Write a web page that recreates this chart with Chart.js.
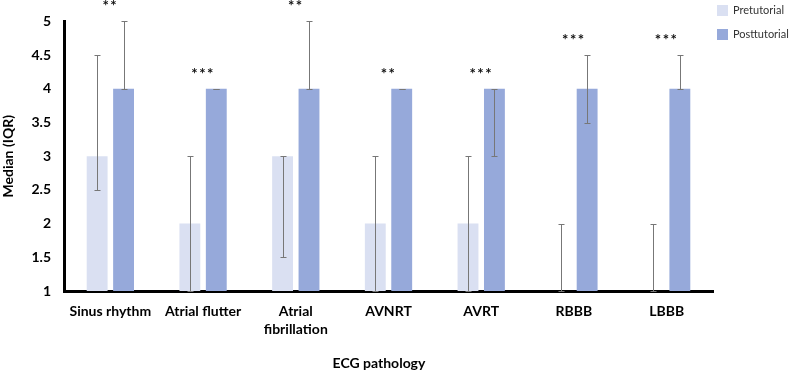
<!DOCTYPE html>
<html>
<head>
<meta charset="utf-8">
<script src="https://cdn.jsdelivr.net/npm/chart.js@4/dist/chart.umd.min.js"></script>
<style>
  html, body { margin: 0; padding: 0; background: #fff; }
  #wrap { width: 791px; height: 372px; }
</style>
</head>
<body>
<div id="wrap"><canvas id="ecgChart" width="791" height="372"></canvas></div>
<script>
// medians and IQR per pathology, pre vs post tutorial
const categories = ['Sinus rhythm', 'Atrial flutter', ['Atrial', 'fibrillation'], 'AVNRT', 'AVRT', 'RBBB', 'LBBB'];
const preMedian  = [3, 2, 3, 2, 2, 1, 1];
const preLow     = [2.5, 1, 1.5, 1, 1, 1, 1];
const preHigh    = [4.5, 3, 3, 3, 3, 2, 2];
const postMedian = [4, 4, 4, 4, 4, 4, 4];
const postLow    = [4, 4, 4, 4, 3, 3.5, 4];
const postHigh   = [5, 4, 5, 4, 4, 4.5, 4.5];
const significance = ['**', '***', '**', '**', '***', '***', '***'];
const yTickLabels = ['1', '1.5', '2', '2.5', '3', '3.5', '4', '4.5', '5'];

const FONT = 'Lato, "Open Sans", sans-serif';

// error bars + stars + legend drawn on top of the bars
const extras = {
  id: 'extras',
  afterDatasetsDraw(chart){
    const ctx = chart.ctx;
    const y = chart.scales.y;
    const x = chart.scales.x;
    const ranges = [[preLow, preHigh], [postLow, postHigh]];
    ctx.save();
    ctx.strokeStyle = '#777';
    ctx.lineWidth = 1;
    ranges.forEach((r, di) => {
      const meta = chart.getDatasetMeta(di);
      meta.data.forEach((bar, i) => {
        const bx = Math.round(bar.x) + 0.5;
        const y1 = Math.round(y.getPixelForValue(r[0][i])) + 0.5;
        const y2 = Math.round(y.getPixelForValue(r[1][i])) + 0.5;
        ctx.beginPath();
        ctx.moveTo(bx, y1); ctx.lineTo(bx, y2);
        ctx.moveTo(bx - 3, y1); ctx.lineTo(bx + 3, y1);
        ctx.moveTo(bx - 3, y2); ctx.lineTo(bx + 3, y2);
        ctx.stroke();
      });
    });
    // significance stars over each category
    ctx.fillStyle = '#111';
    ctx.font = 'bold 15px ' + FONT;
    ctx.textAlign = 'center';
    ctx.textBaseline = 'alphabetic';
    if ('letterSpacing' in ctx) ctx.letterSpacing = '1.5px';
    significance.forEach((s, i) => {
      const cx = x.getPixelForValue(i);
      const top = y.getPixelForValue(Math.max(postHigh[i], preHigh[i]));
      ctx.fillText(s, cx, top - 10);
    });
    ctx.restore();
  },
  afterDraw(chart){
    const ctx = chart.ctx;
    ctx.save();
    // legend
    chart.data.datasets.forEach((ds, i) => {
      const top = 5 + i * 24;
      ctx.fillStyle = ds.backgroundColor;
      ctx.fillRect(717, top, 11, 11);
      ctx.fillStyle = '#333';
      ctx.font = '11px ' + FONT;
      ctx.textAlign = 'left';
      ctx.textBaseline = 'middle';
      ctx.fillText(ds.label, 733, top + 5.5);
    });
    // x axis title
    ctx.fillStyle = '#000';
    ctx.font = 'bold 14px ' + FONT;
    ctx.textAlign = 'center';
    ctx.textBaseline = 'middle';
    ctx.fillText('ECG pathology', 379, 363);
    ctx.restore();
  }
};

new Chart(document.getElementById('ecgChart'), {
  type: 'bar',
  data: {
    labels: categories,
    datasets: [
      { label: 'Pretutorial', data: preMedian, backgroundColor: '#dae0f2' },
      { label: 'Posttutorial', data: postMedian, backgroundColor: '#96a9da' }
    ]
  },
  options: {
    responsive: false,
    animation: false,
    devicePixelRatio: 1,
    categoryPercentage: 0.57,
    barPercentage: 0.79,
    layout: { padding: { left: 0, right: 78, top: 20, bottom: 0 } },
    plugins: { legend: { display: false }, tooltip: { enabled: false } },
    scales: {
      x: {
        grid: { display: false, drawTicks: false },
        border: { display: true, color: '#000', width: 3 },
        ticks: {
          color: '#000', padding: 11, maxRotation: 0, autoSkip: false,
          font: { family: FONT, size: 14, weight: 'bold', lineHeight: 1.3 }
        },
        afterFit(s){ s.height = 81; }
      },
      y: {
        min: 1, max: 5,
        grid: { display: false, drawTicks: false },
        border: { display: true, color: '#000', width: 3 },
        ticks: {
          stepSize: 0.5, color: '#000', padding: 13,
          font: { family: FONT, size: 14, weight: 'bold' },
          callback: (v, i) => yTickLabels[i]
        },
        title: {
          display: true, text: 'Median (IQR)', color: '#000',
          font: { family: FONT, size: 14, weight: 'bold' },
          padding: { top: 0, bottom: 0 }
        },
        afterFit(s){ s.width = 64; }
      }
    }
  },
  plugins: [extras]
});
</script>
</body>
</html>
